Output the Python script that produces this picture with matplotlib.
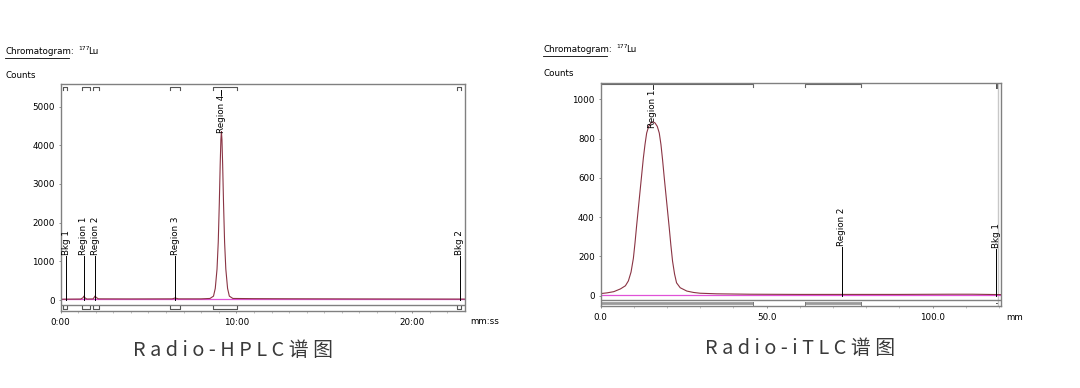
import numpy as np
import matplotlib
matplotlib.use("Agg")
import matplotlib.pyplot as plt

########     Radio-HPLC / Radio-iTLC chromatograms    #########

# HPLC trace (time in min, counts)
hplc_t = [0.0, 0.3, 0.8, 1.15, 1.28, 1.33, 1.38, 1.5, 1.85, 1.92, 1.97, 2.02, 2.15, 4.0,
          6.35, 6.47, 6.52, 6.58, 6.7, 8.0, 8.5, 8.7, 8.8, 8.9, 8.97, 9.03, 9.08, 9.12,
          9.15, 9.18, 9.22, 9.27, 9.33, 9.4, 9.5, 9.6, 9.8, 11.0, 13.0, 15.0, 17.0,
          20.0, 22.7, 23.0]
hplc_c = [20, 22, 24, 25, 60, 100, 60, 25, 28, 70, 105, 70, 30, 28,
          30, 45, 55, 45, 30, 30, 40, 100, 300, 800, 1500, 2500, 3500, 4150,
          4350, 4150, 3500, 2500, 1500, 800, 300, 100, 40, 35, 32, 30, 28,
          26, 24, 24]
hplc_base = 15

# region markers (name, time) and ranges
hplc_labels = ["Bkg 1", "Region 1", "Region 2", "Region 3", "Bkg 2"]
hplc_label_t = [0.33, 1.33, 1.97, 6.52, 22.7]
hplc_peak_name = "Region 4"
hplc_peak_t = 9.15
hplc_ranges = [(0.15, 0.35), (1.2, 1.65), (1.85, 2.2), (6.25, 6.8), (8.65, 10.05), (22.55, 22.8)]

# iTLC trace (mm, counts)
tlc_x = [0, 2, 4, 6, 7.5, 8.4, 9.2, 9.9, 10.4, 10.9, 11.4, 11.9, 12.4, 12.9, 13.4,
         13.9, 14.5, 15.2, 15.8, 16.4, 17.1, 17.7, 18.2, 18.7, 19.2, 19.7, 20.2,
         20.7, 21.2, 21.7, 22.3, 22.9, 24, 26, 28, 30, 35, 45, 60, 75, 90, 105,
         112, 120.6]
tlc_c = [10, 14, 20, 34, 50, 75, 120, 190, 270, 360, 445, 530, 615, 700, 770,
         828, 862, 880, 885, 880, 862, 828, 770, 690, 600, 515, 430,
         345, 255, 175, 110, 65, 40, 23, 16, 12, 9, 7, 6, 6, 6, 7,
         7, 5]
tlc_base = 5

tlc_labels = ["Region 2", "Bkg 1"]
tlc_label_x = [72.6, 119.2]
tlc_label_h = [249, 237]
tlc_peak_name = "Region 1"
tlc_peak_x = 15.8
tlc_ranges = [(0, 46), (61.6, 78.5)]
tlc_bkg = (119.2, 119.8)

W, H = 1080, 388
fig = plt.figure(figsize=(W / 100, H / 100), dpi=100)

def px(x, y):
    return x / W, 1 - y / H

trace_col = '#8a3444'
base_col = '#e052d8'
frame_col = '#808080'
fs = 6.3

def style(ax):
    for s in ax.spines.values():
        s.set_color(frame_col)
        s.set_linewidth(1.0)
    ax.tick_params(axis='both', labelsize=fs, length=1.6, width=0.6, color=frame_col, pad=2.5)
    ax.tick_params(axis='x', pad=3.5)
    ax.tick_params(axis='x', which='minor', length=1.4, width=0.5, color='#aaaaaa')

# ---------- left: Radio-HPLC ----------
ax1 = fig.add_axes([60.5 / W, 1 - 311 / H, (465 - 60.5) / W, (311 - 84.3) / H])
ax1.set_xlim(0, 23.0)
ax1.set_ylim(-284, 5574)
ax1.axhline(hplc_base, color=base_col, lw=0.9)
ax1.plot(hplc_t, hplc_c, color=trace_col, lw=0.8)
for name, t in zip(hplc_labels, hplc_label_t):
    ax1.plot([t, t], [0, 1150], color='k', lw=0.7)
    ax1.text(t, 1170, name, rotation=90, ha='center', va='bottom', fontsize=fs)
ax1.text(hplc_peak_t, 5297, hplc_peak_name, rotation=90, ha='center', va='top', fontsize=fs)
ax1.plot([hplc_peak_t, hplc_peak_t], [5300, 5420], color='k', lw=0.7)
ax1.axhline(-127, color=frame_col, lw=1.0)
for a, b in hplc_ranges:
    ax1.plot([a, a, b, b], [5426, 5512, 5512, 5426], color='#555555', lw=0.8)
    ax1.plot([a, a, b, b], [-155, -225, -225, -155], color='#555555', lw=0.8)
ax1.set_yticks(range(0, 5001, 1000))
ax1.set_xticks([0, 10, 20])
ax1.set_xticklabels(['0:00', '10:00', '20:00'])
ax1.set_xticks(np.arange(0, 23, 1), minor=True)
style(ax1)

# ---------- right: Radio-iTLC ----------
ax2 = fig.add_axes([600.5 / W, 1 - 305.6 / H, (1001 - 600.5) / W, (305.6 - 82.7) / H])
ax2.set_xlim(0, 120.6)
ax2.set_ylim(-51, 1084.6)
ax2.axvline(119.6, color='#c8c8c8', lw=1.0)
ax2.axhline(tlc_base, color=base_col, lw=0.9)
ax2.plot(tlc_x, tlc_c, color=trace_col, lw=0.8)
for name, x, h in zip(tlc_labels, tlc_label_x, tlc_label_h):
    ax2.plot([x, x], [0, h], color='k', lw=0.7)
    ax2.text(x, h + 4, name, rotation=90, ha='center', va='bottom', fontsize=fs)
ax2.text(tlc_peak_x, 1047, tlc_peak_name, rotation=90, ha='center', va='top', fontsize=fs)
ax2.plot([tlc_peak_x, tlc_peak_x], [1050, 1072], color='k', lw=0.6)
ax2.axhline(-24.5, color=frame_col, lw=1.0)
# top brackets
a, b = tlc_ranges[0]
ax2.plot([a, b, b], [1076, 1076, 1061], color='#666666', lw=0.8)
a, b = tlc_ranges[1]
ax2.plot([a, a, b, b], [1061, 1076, 1076, 1061], color='#666666', lw=0.8)
ax2.fill_between(tlc_bkg, 1050, 1078, color='#555555', lw=0)
# bottom bars
for a, b in tlc_ranges:
    ax2.plot([a, b], [-40, -40], color='#9a9a9a', lw=2.0, solid_capstyle='butt')
    for e in (a, b):
        if e > 0:
            ax2.plot([e, e], [-35, -51], color='#777777', lw=0.7)
ax2.fill_between(tlc_bkg, -44, -36, color='#555555', lw=0)
ax2.set_yticks(range(0, 1001, 200))
ax2.set_xticks([0, 50, 100])
ax2.set_xticklabels(['0.0', '50.0', '100.0'])
ax2.set_xticks(np.arange(0, 121, 10), minor=True)
style(ax2)

# ---------- header texts ----------
for x0, y0, yc in [(5, 52, 76), (543, 50, 74)]:
    fig.text(*px(x0, y0), 'Chromatogram:', fontsize=fs, va='center', ha='left')
    fig.add_artist(plt.Line2D([x0 / W, (x0 + 64) / W], [1 - (y0 + 6) / H] * 2,
                              color='k', lw=0.6))
    fig.text(*px(x0 + 73, y0 - 3), '177', fontsize=4.3, va='center', ha='left')
    fig.text(*px(x0 + 83, y0), 'Lu', fontsize=fs, va='center', ha='left')
    fig.text(*px(x0, yc), 'Counts', fontsize=fs, va='center', ha='left')

fig.text(*px(470, 321), 'mm:ss', fontsize=fs, va='center', ha='left')
fig.text(*px(1006, 317), 'mm', fontsize=fs, va='center', ha='left')

cjk = ['Noto Sans CJK SC', 'DejaVu Sans']
fig.text(*px(233, 350), ' '.join('Radio-HPLC谱图'), fontsize=14.3, color='#3a3a3a',
         ha='center', va='center', family=cjk)
fig.text(*px(800, 349), ' '.join('Radio-iTLC谱图'), fontsize=14.3, color='#3a3a3a',
         ha='center', va='center', family=cjk)

fig.savefig("out.png", dpi=100)
